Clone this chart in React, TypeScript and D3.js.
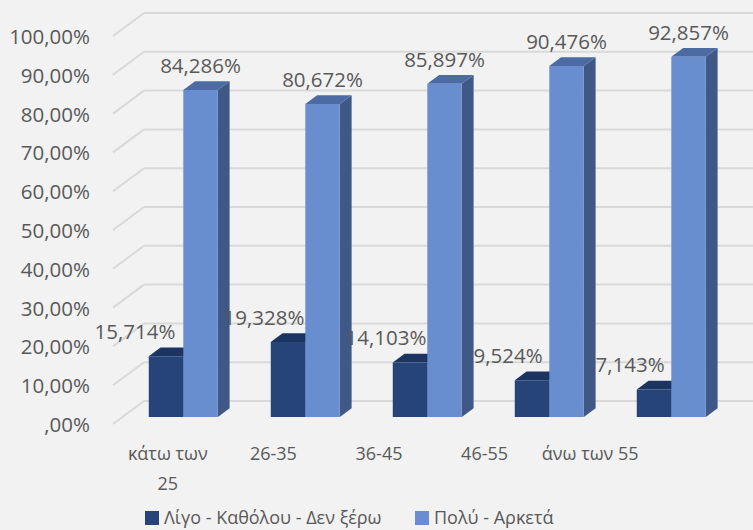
import React from "react";
import * as d3 from "d3";

const categories = ["κάτω των 25", "26-35", "36-45", "46-55", "άνω των 55"];
const seriesNames = ["Λίγο - Καθόλου - Δεν ξέρω", "Πολύ - Αρκετά"];
const seriesLow = [15.714, 19.328, 14.103, 9.524, 7.143];
const seriesHigh = [84.286, 80.672, 85.897, 90.476, 92.857];
const yTicks = [0, 10, 20, 30, 40, 50, 60, 70, 80, 90, 100];

const W = 753;
const H = 530;
const FONT = "'Open Sans', 'Noto Sans', sans-serif";
const TEXT = "#595959";
const GRID = "#d9d9d9";
const BG = "#f2f2f2";

const colors = [
  { front: "#264478", top: "#1c3461", side: "#1b325c" },
  { front: "#698ed0", top: "#4d6ba3", side: "#3f5886" },
];

// oblique depth vector (full depth of the plot)
const DX = 31;
const DY = -23;
const D_FRONT = 0.3;
const D_BACK = 0.68;

const fmtTick = (v: number) => (v === 0 ? ",00%" : `${v},00%`);
const fmtVal = (v: number) => v.toFixed(3).replace(".", ",") + "%";
const wrap = (s: string) => {
  if (s.length <= 10) return [s];
  const i = s.lastIndexOf(" ");
  return [s.slice(0, i), s.slice(i + 1)];
};

export default function App() {
  const y = d3.scaleLinear().domain([0, 100]).range([424, 36]);
  const xBand = d3
    .scaleBand<string>()
    .domain(categories)
    .range([113, 723])
    .paddingInner(0.434)
    .paddingOuter(0.217);
  const xSub = d3
    .scaleBand<string>()
    .domain(seriesNames)
    .range([0, xBand.bandwidth()]);
  const xLabel = d3.scaleBand<string>().domain(categories).range([115, 643]);

  const wallLeft = 113;
  const wallRight = W;
  const proj = (x: number, v: number, d: number): [number, number] => [
    x + DX * d,
    y(v) + DY * d,
  ];

  const series = [seriesLow, seriesHigh];

  const bars: JSX.Element[] = [];
  const labels: JSX.Element[] = [];
  categories.forEach((c, ci) => {
    series.forEach((vals, si) => {
      const v = vals[ci];
      const x0 = (xBand(c) as number) + (xSub(seriesNames[si]) as number);
      const x1 = x0 + xSub.bandwidth();
      const col = colors[si];
      const p = (x: number, vv: number, d: number) => proj(x, vv, d).join(",");
      const front = [p(x0, 0, D_FRONT), p(x1, 0, D_FRONT), p(x1, v, D_FRONT), p(x0, v, D_FRONT)].join(" ");
      const top = [p(x0, v, D_FRONT), p(x1, v, D_FRONT), p(x1, v, D_BACK), p(x0, v, D_BACK)].join(" ");
      const side = [p(x1, 0, D_FRONT), p(x1, 0, D_BACK), p(x1, v, D_BACK), p(x1, v, D_FRONT)].join(" ");
      bars.push(
        <g key={`b-${ci}-${si}`}>
          <polygon points={side} fill={col.side} />
          <polygon points={top} fill={col.top} />
          <polygon points={front} fill={col.front} />
        </g>
      );
      const [fx, fy] = proj((x0 + x1) / 2, v, D_FRONT);
      labels.push(
        <text
          key={`l-${ci}-${si}`}
          x={fx + (si === 0 ? (ci === 0 ? -31 : -24) : 0)}
          y={fy - 25}
          textAnchor="middle"
          dominantBaseline="central"
          fontSize={20.5}
          fill={TEXT}
        >
          {fmtVal(v)}
        </text>
      );
    });
  });

  return (
    <svg
      width={W}
      height={H}
      style={{ position: "absolute", left: 0, top: 0, background: BG }}
      fontFamily={FONT}
    >
      <rect x={0} y={0} width={W} height={H} fill={BG} />
      {/* walls grid */}
      {yTicks.map((t) => {
        const [ax, ay] = proj(wallLeft, t, 0);
        const [bx, by] = proj(wallLeft, t, 1);
        return (
          <g key={`g-${t}`}>
            <line x1={ax} y1={ay} x2={bx} y2={by} stroke={GRID} strokeWidth={2} />
            <line x1={bx} y1={by} x2={wallRight} y2={by} stroke={GRID} strokeWidth={2} />
          </g>
        );
      })}
      {/* y axis labels */}
      {yTicks.map((t) => (
        <text
          key={`t-${t}`}
          x={90}
          y={y(t)}
          textAnchor="end"
          dominantBaseline="central"
          fontSize={20.5}
          fill={TEXT}
        >
          {fmtTick(t)}
        </text>
      ))}
      {bars}
      {labels}
      {/* category labels */}
      {categories.map((c) => {
        const cx = (xLabel(c) as number) + xLabel.bandwidth() / 2;
        return (
          <text key={`c-${c}`} textAnchor="middle" fontSize={18} fill={TEXT}>
            {wrap(c).map((line, i) => (
              <tspan key={i} x={cx} y={453 + i * 30} dominantBaseline="central">
                {line}
              </tspan>
            ))}
          </text>
        );
      })}
      {/* legend */}
      <g>
        <rect x={145} y={511} width={14} height={14} fill={colors[0].front} />
        <text x={164} y={517} dominantBaseline="central" fontSize={18} fill={TEXT}>
          {seriesNames[0]}
        </text>
        <rect x={415} y={511} width={14} height={14} fill={colors[1].front} />
        <text x={434} y={517} dominantBaseline="central" fontSize={18} fill={TEXT}>
          {seriesNames[1]}
        </text>
      </g>
    </svg>
  );
}
